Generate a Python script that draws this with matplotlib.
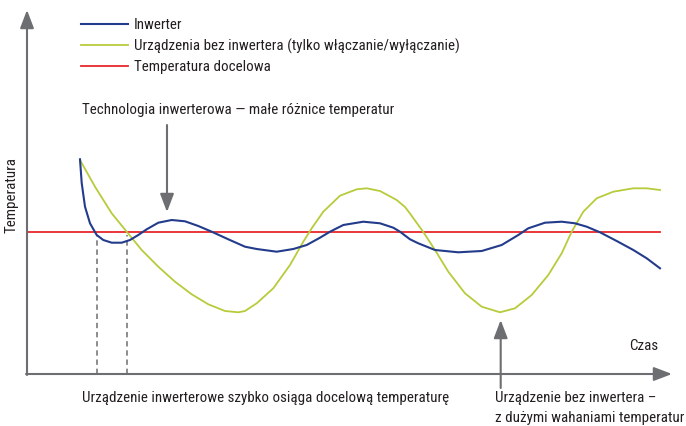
import matplotlib
matplotlib.use('Agg')
import matplotlib.pyplot as plt

plt.rcParams['font.family'] = ['Roboto Condensed', 'DejaVu Sans']

# czas (t) i temperatura (T), jednostki umowne
t_inv = [53, 54.7, 58, 63, 69.7, 76.3, 84.7, 94.7, 103, 111.3, 119.7, 131.3,
         144.7, 158, 171.3, 184.7, 201.3, 218, 229.7, 249.7, 266.3, 279.7, 293,
         303, 316.3, 336.3, 353, 366.3, 373, 383, 391.3, 408, 431.3, 454.7,
         474.7, 491.3, 501.3, 518, 534.7, 548, 559.7, 573, 589.7, 606.3, 619.7,
         633]
T_inv = [214.7, 191, 167.3, 150.7, 139, 134, 131.3, 131.3, 134, 139, 144.7,
         151.3, 154, 152.7, 148, 142.3, 134.7, 127.3, 125, 122.3, 125, 129,
         136.3, 142.3, 149, 152.3, 150.7, 146.3, 142.3, 134.7, 130.7, 124,
         121.7, 123, 129, 139, 145.7, 151.3, 152.3, 150.7, 147.3, 141.7, 133,
         124, 115.7, 105.7]

t_onoff = [53, 68, 84.7, 99.7, 114.7, 131.3, 148, 164.7, 181.3, 198, 211.3,
           218, 229.7, 246.3, 263, 276.3, 284.7, 296.3, 313, 329.7, 339.7, 353,
           369.7, 378, 383, 388, 396.3, 408, 421.3, 438, 454.7, 473, 488, 504.7,
           521.3, 534.7, 544.7, 556.3, 569.7, 586.3, 606.3, 619.7, 633]
T_onoff = [214, 187.3, 160.7, 142.3, 124, 107.3, 92.3, 79.7, 69.7, 63, 61.7,
           63, 70.7, 85.7, 109, 132.3, 145.7, 162.3, 178.3, 184.7, 185.7, 183,
           174, 167, 160.5, 153.5, 142, 124, 102.3, 80.7, 67.3, 61.7, 65.7, 79,
           99, 120.7, 142.3, 162.3, 175.7, 182.3, 185.7, 185.7, 184]

T_target = 142
t_end = 633
t_reach = [69.7, 99.7]

c_inv = '#233b8b'
c_onoff = '#b8cb3a'
c_target = '#e8262b'
c_axis = '#6d6e71'
c_text = '#231f20'
fs = 10.8

fig = plt.figure(figsize=(6.86, 4.26), dpi=100)
ax = fig.add_axes([0, 0, 1, 1])
ax.set_xlim(-27, 659)
ax.set_ylim(-52, 374)
ax.axis('off')

# osie ze strzałkami
arrow = dict(arrowstyle='-|>,head_length=1.1,head_width=0.42', color=c_axis,
             lw=1.5, shrinkA=0, shrinkB=0)
ax.annotate('', xy=(0, 364), xytext=(0, -1), arrowprops=arrow)
ax.annotate('', xy=(645, 0), xytext=(-1, 0), arrowprops=arrow)

ax.vlines(t_reach, 0, T_target - 3, colors=c_axis, linestyles=(0, (3.5, 2.5)), lw=1.1)
ax.plot([0, t_end], [T_target, T_target], color=c_target, lw=1.3, label='Temperatura docelowa')
ax.plot(t_onoff, T_onoff, color=c_onoff, lw=1.3, solid_joinstyle='round',
        label='Urządzenia bez inwertera (tylko włączanie/wyłączanie)')
ax.plot(t_inv, T_inv, color=c_inv, lw=1.5, solid_joinstyle='round', label='Inwerter')

h, l = ax.get_legend_handles_labels()
order = [2, 1, 0]
ax.legend([h[i] for i in order], [l[i] for i in order], loc='upper left',
          bbox_to_anchor=(0.118, 0.958), frameon=False, fontsize=fs,
          handlelength=3.13, handletextpad=0.4, labelspacing=0.42,
          borderaxespad=0, borderpad=0, labelcolor=c_text)

ax.text(-15, 179, 'Temperatura', rotation=90, ha='center', va='center',
        fontsize=fs, color=c_text)
ax.text(631, 28, 'Czas', ha='right', va='center', fontsize=fs, color=c_text)

ax.text(55, 264, 'Technologia inwerterowa — małe różnice temperatur', ha='left',
        va='center', fontsize=fs, color=c_text)
ann = dict(arrowstyle='-|>,head_length=1.1,head_width=0.42', color=c_axis,
           lw=1.5, shrinkA=0, shrinkB=0)
ax.annotate('', xy=(140, 162), xytext=(140, 249), arrowprops=ann)

ax.text(55, -24, 'Urządzenie inwerterowe szybko osiąga docelową temperaturę',
        ha='left', va='center', fontsize=fs, color=c_text)

ax.annotate('', xy=(473.7, 54), xytext=(473.7, -14), arrowprops=ann)
ax.text(468, -24, 'Urządzenie bez inwertera –', ha='left', va='center',
        fontsize=fs, color=c_text)
ax.text(468, -44, 'z dużymi wahaniami temperatur', ha='left', va='center',
        fontsize=fs, color=c_text)

fig.savefig('out.png', dpi=100)
